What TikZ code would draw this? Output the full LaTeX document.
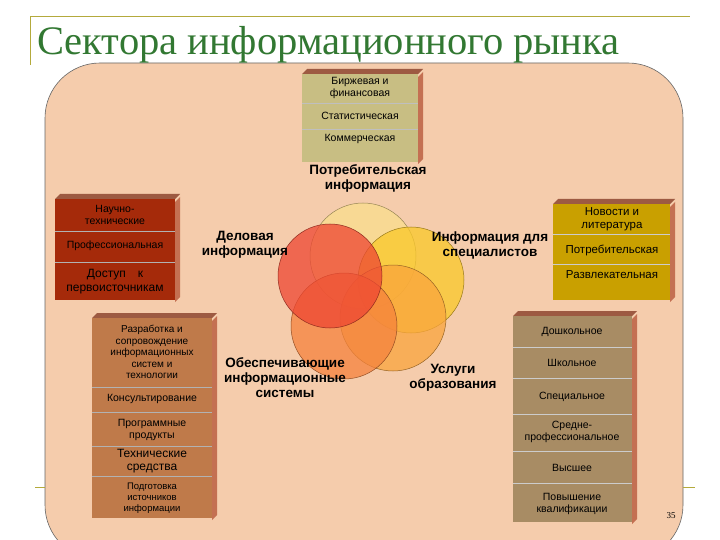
\documentclass[tikz,border=0pt]{standalone}
\usepackage{fontspec}
\setmainfont{Liberation Serif}
\newfontfamily\boxfont{Liberation Sans}
\begin{document}
\begin{tikzpicture}[x=1pt,y=-1pt,
  cell/.style={font=\boxfont\fontsize{10.5}{12}\selectfont,align=center,text=black},
  lbl/.style={font=\boxfont\bfseries\fontsize{13.5}{15}\selectfont,align=center},
  circ/.style={draw=#1!60!black,fill=#1,fill opacity=0.75,line width=0.5pt},
  divl/.style={draw=black!25,line width=0.4pt}]
\useasboundingbox (0,0) rectangle (720,540);
\fill[white] (0,0) rectangle (720,540);
% panel
\draw[fill={rgb,255:red,245;green,204;blue,172},draw=black!60,line width=0.6pt,rounded corners=55] (45,63) rectangle (683,560);
% title frame
\draw[draw={rgb,255:red,180;green,170;blue,60},line width=1pt] (30,65) -- (30,17) -- (690,17);
\draw[draw={rgb,255:red,180;green,170;blue,60},line width=1pt] (35,487) -- (45,487);
\draw[draw={rgb,255:red,180;green,170;blue,60},line width=1pt] (683,487) -- (695,487);
\node[anchor=base west,text={rgb,255:red,50;green,120;blue,50},font=\fontsize{40.5}{44}\selectfont,inner sep=0] (title) at (37,55) {Сектора информационного рынка};
\node[font=\fontsize{9}{10}\selectfont] (pg) at (671,516) {35};
% 3D box macro
\newcommand{\mybox}[6]{% x1,y1,x2,y2,fill,side
  \fill[#6] (#3,#2+3) -- (#3+5,#2-2) -- (#3+5,#4-3) -- (#3,#4+2) -- cycle;
  \fill[#6!80!black] (#1,#2) -- (#1+5,#2-5) -- (#3+5,#2-5) -- (#3,#2) -- cycle;
  \fill[#5] (#1,#2) rectangle (#3,#4);}
\definecolor{olivebox}{RGB}{200,190,131}
\definecolor{redbox}{RGB}{165,42,10}
\definecolor{brownbox}{RGB}{191,122,74}
\definecolor{goldbox}{RGB}{201,160,0}
\definecolor{tanbox}{RGB}{168,140,100}
\definecolor{sidec}{RGB}{196,112,82}
% top box
\mybox{302}{74}{418}{162}{olivebox}{sidec}
\draw[divl] (302,103) -- (418,103); \draw[divl] (302,129) -- (418,129);
\node[cell] (t1) at (360,88) {Биржевая и\\финансовая};
\node[cell] (t2) at (360,116) {Статистическая};
\node[cell] (t3) at (360,139) {Коммерческая};
% left box 1
\mybox{55}{199}{175}{300}{redbox}{sidec}
\draw[divl,draw=black!30] (55,231) -- (175,231); \draw[divl,draw=black!30] (55,262) -- (175,262);
\node[cell] (l1) at (115,215) {Научно-\\технические};
\node[cell] (l2) at (115,246) {Профессиональная};
\node[cell,font=\boxfont\fontsize{12}{14}\selectfont] (l3) at (115,282) {Доступ\quad к\\первоисточникам};
% left box 2
\mybox{92}{318}{212}{518}{brownbox}{sidec}
\draw[divl,draw=black!30] (92,387) -- (212,387); \draw[divl,draw=black!30] (92,412) -- (212,412);
\draw[divl,draw=black!30] (92,446) -- (212,446); \draw[divl,draw=black!30] (92,476) -- (212,476);
\node[cell,font=\boxfont\fontsize{10}{11.5}\selectfont] (b1) at (152,352) {Разработка и\\сопровождение\\информационных\\систем и\\технологии};
\node[cell] (b2) at (152,399) {Консультирование};
\node[cell] (b3) at (152,430) {Программные\\продукты};
\node[cell,font=\boxfont\fontsize{12}{13.5}\selectfont] (b4) at (152,461) {Технические\\средства};
\node[cell,font=\boxfont\fontsize{9.5}{11}\selectfont] (b5) at (152,498) {Подготовка\\источников\\информации};
% right box 1
\mybox{553}{204}{670}{300}{goldbox}{sidec}
\draw[divl,draw=black!20] (553,234) -- (670,234); \draw[divl,draw=black!20] (553,264) -- (670,264);
\node[cell,font=\boxfont\fontsize{11.5}{13}\selectfont] (r1) at (612,219) {Новости и\\литература};
\node[cell,font=\boxfont\fontsize{11.5}{13}\selectfont] (r2) at (612,250) {Потребительская};
\node[cell,font=\boxfont\fontsize{11.5}{13}\selectfont] (r3) at (612,275) {Развлекательная};
% right box 2
\mybox{513}{316}{632}{522}{tanbox}{sidec}
\foreach \yy in {347,378,414,451,483} \draw[divl,draw=black!20] (513,\yy) -- (632,\yy);
\node[cell] (s1) at (572,332) {Дошкольное};
\node[cell] (s2) at (572,363) {Школьное};
\node[cell] (s3) at (572,397) {Специальное};
\node[cell] (s4) at (572,432) {Средне-\\профессиональное};
\node[cell] (s5) at (572,468) {Высшее};
\node[cell] (s6) at (572,504) {Повышение\\квалификации};
% circles
\definecolor{c1}{RGB}{250,222,140}
\definecolor{c2}{RGB}{250,200,40}
\definecolor{c3}{RGB}{238,70,50}
\definecolor{c4}{RGB}{245,130,60}
\definecolor{c5}{RGB}{250,165,60}
\path[circ=c1] (363,256) circle[radius=53];
\path[circ=c2] (411,280) circle[radius=53];
\path[circ=c5] (393,318) circle[radius=53];
\path[circ=c4] (344,326) circle[radius=53];
\path[circ=c3] (330,276) circle[radius=52];
% labels
\node[lbl] (p1) at (368,178) {Потребительская\\информация};
\node[lbl] (p2) at (245,245) {Деловая\\информация};
\node[lbl] (p3) at (490,245) {Информация для\\специалистов};
\node[lbl] (p4) at (285,378) {Обеспечивающие\\информационные\\системы};
\node[lbl] (p5) at (453,378) {Услуги\\образования};
\end{tikzpicture}
\end{document}
